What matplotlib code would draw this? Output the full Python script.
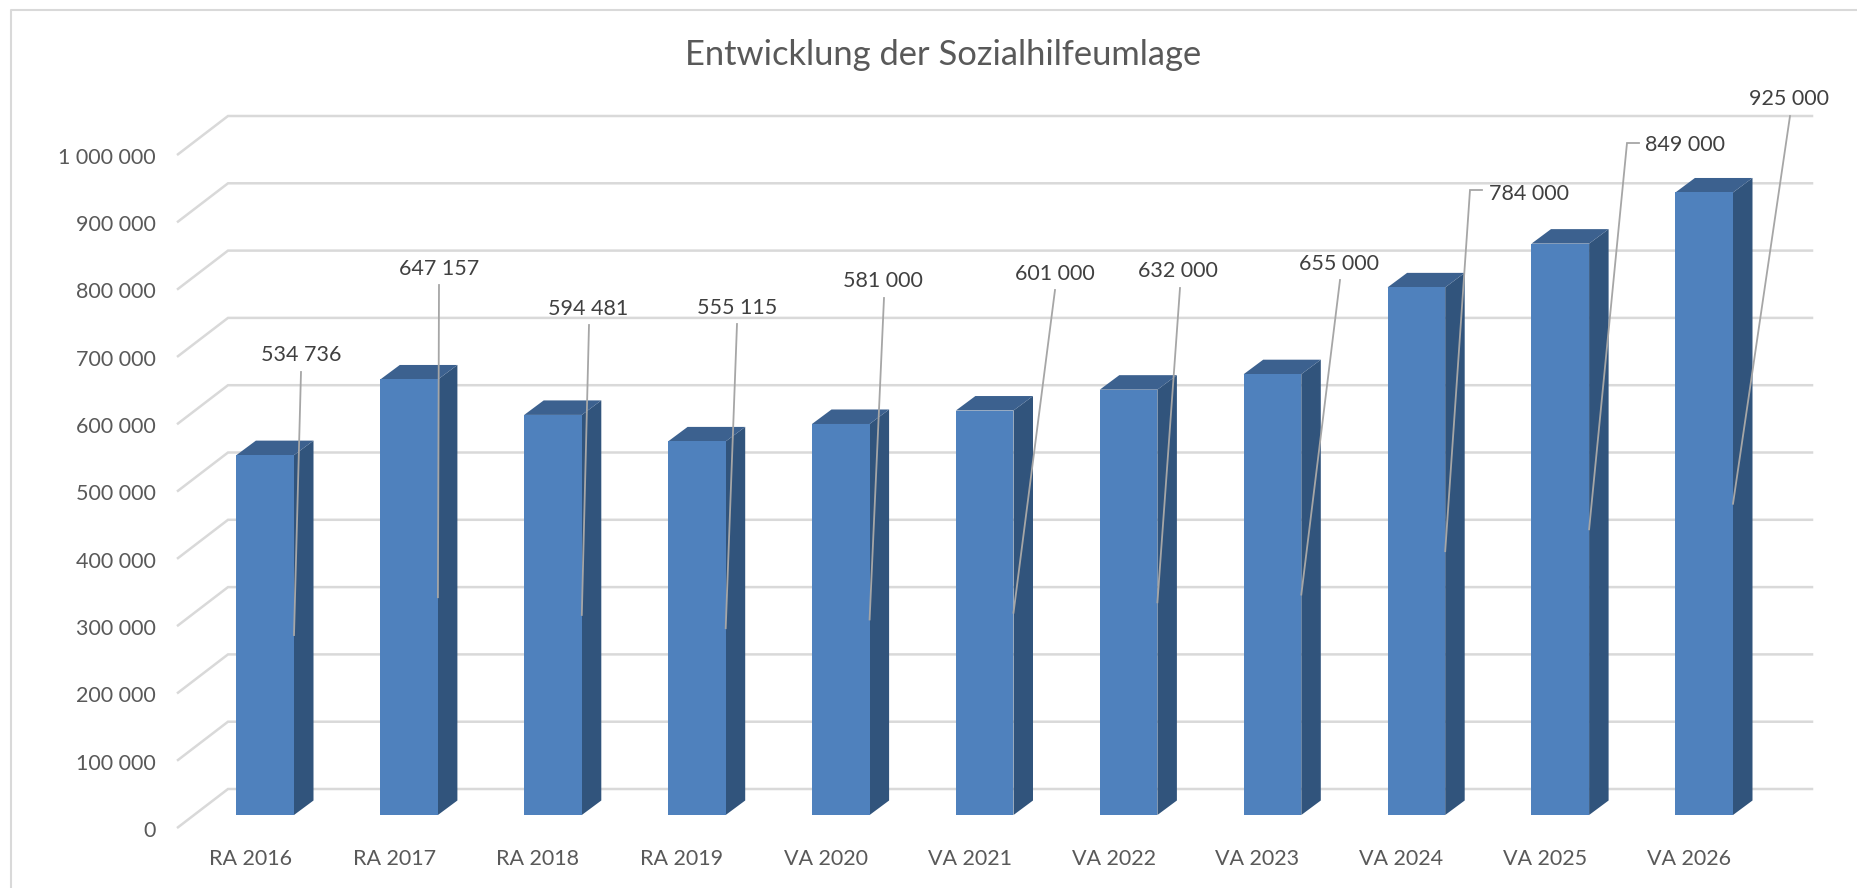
import matplotlib
matplotlib.use("Agg")
import matplotlib.pyplot as plt
from matplotlib.patches import Polygon, Rectangle

# Values
categories = ["RA 2016", "RA 2017", "RA 2018", "RA 2019", "VA 2020", "VA 2021",
              "VA 2022", "VA 2023", "VA 2024", "VA 2025", "VA 2026"]
values = [534736, 647157, 594481, 555115, 581000, 601000, 632000, 655000, 784000, 849000, 925000]
ticks = [0, 100000, 200000, 300000, 400000, 500000, 600000, 700000, 800000, 900000, 1000000]
title = "Entwicklung der Sozialhilfeumlage"

W, H = 1858, 888
PX_PER_CAT = 143.9
PX_PER_VAL = 67.3 / 100000
X0 = 265.2

plt.rcParams['font.family'] = ['Lato', 'DejaVu Sans']

fig = plt.figure(figsize=(W / 100, H / 100), dpi=100, facecolor='white')
ax = fig.add_axes([0, 0, 1, 1])
ax.set_xlim(-X0 / PX_PER_CAT, (W - X0) / PX_PER_CAT)
ax.set_ylim((815 - H) / PX_PER_VAL, 815 / PX_PER_VAL)
ax.axis('off')


def dx(px):
    return px / PX_PER_CAT


def dy(px):
    return px / PX_PER_VAL


def sep(v):
    return f"{v:,}".replace(",", " ")


grid_color = '#d9d9d9'
text_color = '#595959'
label_color = '#404040'
front_color = '#4f81bd'
side_color = '#31547c'
top_color = '#3c618f'
leader_color = '#a6a6a6'

# outer frame of the chart
ax.plot([dx(10.5 - X0), dx(10.5 - X0), dx(W - X0)], [dy(815 - H), dy(815 - 10.5), dy(815 - 10.5)],
        color='#d9d9d9', lw=1.5, zorder=1)

# wall grid lines and the slanted floor ticks
x_front = dx(178 - X0)
x_back = dx(228 - X0)
x_end = dx(1812 - X0)
for t in ticks:
    y_front = t - dy(12.3)
    y_back = t + dy(26)
    ax.plot([x_front, x_back, x_end], [y_front, y_back, y_back], color=grid_color, lw=1.8,
            solid_joinstyle='miter', zorder=1)
    ax.text(dx(156 - X0), y_front - dy(3.5), sep(t), ha='right', va='center', fontsize=15.5, color=text_color)

# 3d bars
half = dx(28.8)
depth_x = dx(19.5)
depth_y = dy(14.5)
for i, v in enumerate(values):
    ax.add_patch(Polygon([(i + half, 0), (i + half + depth_x, depth_y), (i + half + depth_x, v + depth_y), (i + half, v)],
                         closed=True, fc=side_color, ec='none', zorder=2))
    ax.add_patch(Polygon([(i - half, v), (i - half + depth_x, v + depth_y), (i + half + depth_x, v + depth_y), (i + half, v)],
                         closed=True, fc=top_color, ec='none', zorder=2))
    ax.add_patch(Rectangle((i - half, 0), 2 * half, v, fc=front_color, ec='none', zorder=3))
    ax.text(i - dx(15), dy(-44), categories[i], ha='center', va='center', fontsize=15.5, color=text_color)

# leader starts in pixels from the picture; the other end sits halfway up the bar
label_px = [(301, 355), (439, 269), (588, 309), (737, 308), (883, 281), (1055, 274),
            (1178, 271), (1339, 264), (1529, 194), (1685, 145), (1789, 99)]
leader_px = [(301, 372), (439, 285), (589, 325), (737, 324), (884, 298), (1055, 290),
             (1180, 288), (1340, 280), (1470, 190), (1627, 143), (1790, 116)]
for i, v in enumerate(values):
    lx, ly = label_px[i]
    sx, sy = leader_px[i]
    xs = [(sx - X0) / PX_PER_CAT, i + half]
    ys = [(815 - sy) / PX_PER_VAL, v / 2]
    if i in (8, 9):
        # these two have a short elbow towards the label
        xs.insert(0, (sx + 12 - X0) / PX_PER_CAT)
        ys.insert(0, (815 - sy) / PX_PER_VAL)
    ax.plot(xs, ys, color=leader_color, lw=1.3, solid_joinstyle='miter', zorder=4)
    ax.text((lx - X0) / PX_PER_CAT, (815 - ly) / PX_PER_VAL, sep(v), ha='center', va='center',
            fontsize=15.5, color=label_color, zorder=5)

ax.text(dx(943 - X0), dy(815 - 55), title, ha='center', va='center', fontsize=24.8, color=text_color)

fig.savefig("out.png", dpi=100)
